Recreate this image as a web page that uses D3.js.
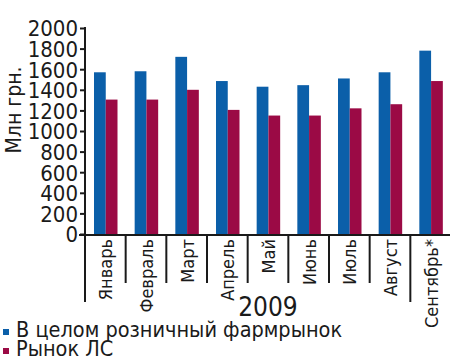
<!DOCTYPE html>
<html>
<head>
<meta charset="utf-8">
<script src="https://cdn.jsdelivr.net/npm/d3@7"></script>
<style>
  body { margin: 0; background: #fff; }
  svg { display: block; }
  text { font-family: "DejaVu Sans Condensed", "DejaVu Sans", sans-serif; fill: #1a1a1a; }
</style>
</head>
<body>
<svg id="graph" width="450" height="363"></svg>
<script>
// データ
var months = ["Январь", "Февраль", "Март", "Апрель", "Май", "Июнь", "Июль", "Август", "Сентябрь*"];
var retailTotal = [1570, 1580, 1720, 1485, 1430, 1445, 1510, 1570, 1780];
var drugMarket = [1305, 1305, 1400, 1205, 1150, 1150, 1220, 1260, 1485];
var seriesNames = ["В целом розничный фармрынок", "Рынок ЛС"];
var yTicks = [0, 200, 400, 600, 800, 1000, 1200, 1400, 1600, 1800, 2000];
var yearLabel = "2009";
var yTitle = "Млн грн.";

var colors = ["#0b5fa9", "#9b0a45"];

function graph() {
    var svg = d3.select("#graph");
    var margin = {left: 85, right: 451, top: 28, zero: 234};

    // スケール
    var xScale = d3.scaleBand().domain(months).range([margin.left, margin.right]);
    var xSub = d3.scaleBand().domain([0, 1]).range([9, 32.5]);
    var yScale = d3.scaleLinear().domain([0, 2000]).range([margin.zero, margin.top]);

    // 棒グラフ
    var series = [retailTotal, drugMarket];
    series.forEach(function(vals, s) {
        svg.append("g").selectAll("rect")
            .data(vals)
            .enter()
            .append("rect")
            .attr("x", function(d, i) { return xScale(months[i]) + xSub(s); })
            .attr("y", function(d) { return yScale(d); })
            .attr("width", xSub.bandwidth())
            .attr("height", function(d) { return margin.zero - yScale(d); })
            .attr("fill", colors[s]);
    });

    // y軸
    var yAxis = d3.axisLeft(yScale).tickValues(yTicks).tickFormat(d3.format("d")).tickSize(5).tickPadding(2);
    var gy = svg.append("g")
        .attr("transform", "translate(" + margin.left + ",0)")
        .call(yAxis);
    gy.select(".domain").remove();
    gy.attr("font-family", null).attr("font-size", null);
    gy.selectAll("line").attr("stroke", "#1a1a1a").attr("stroke-width", 2);
    gy.selectAll("text").attr("font-size", 22).attr("dy", "0.36em");

    svg.append("line")
        .attr("x1", margin.left).attr("x2", margin.left)
        .attr("y1", margin.top - 1).attr("y2", margin.zero + 1)
        .attr("stroke", "#1a1a1a").attr("stroke-width", 2);

    // x軸
    svg.append("line")
        .attr("x1", margin.left - 6).attr("x2", margin.right)
        .attr("y1", margin.zero + 1).attr("y2", margin.zero + 1)
        .attr("stroke", "#1a1a1a").attr("stroke-width", 2);

    // 区切り線
    months.forEach(function(m, i) {
        var x = xScale(m);
        var isLong = (i === 0 || i === months.length - 1);
        svg.append("line")
            .attr("x1", x).attr("x2", x)
            .attr("y1", margin.zero).attr("y2", isLong ? 302 : 283)
            .attr("stroke", "#1a1a1a").attr("stroke-width", 2);
    });

    // 月ラベル
    svg.append("g").selectAll("text")
        .data(months)
        .enter()
        .append("text")
        .attr("transform", function(d) {
            return "translate(" + (xScale(d) + xScale.bandwidth() / 2 + 7) + "," + (margin.zero + 5) + ") rotate(-90)";
        })
        .attr("text-anchor", "end")
        .attr("font-size", 18)
        .text(function(d) { return d; });

    // 年
    svg.append("text")
        .attr("x", 268).attr("y", 316)
        .attr("text-anchor", "middle")
        .attr("font-size", 26)
        .text(yearLabel);

    // y軸タイトル
    svg.append("text")
        .attr("transform", "translate(21,110) rotate(-90)")
        .attr("text-anchor", "middle")
        .attr("font-size", 21)
        .text(yTitle);

    // 凡例
    seriesNames.forEach(function(name, i) {
        var y = 337 + i * 19;
        svg.append("rect")
            .attr("x", 3).attr("y", y - 8)
            .attr("width", 6).attr("height", 6)
            .attr("fill", colors[i]);
        svg.append("text")
            .attr("x", 16).attr("y", y)
            .attr("font-size", 21.5)
            .text(name);
    });
}

graph();
</script>
</body>
</html>
